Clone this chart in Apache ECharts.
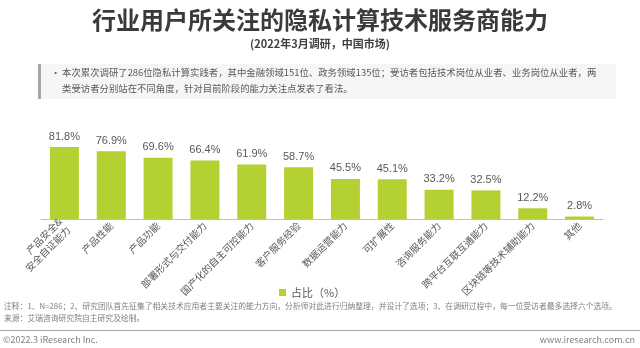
<!DOCTYPE html>
<html><head><meta charset="utf-8">
<script src="https://cdn.jsdelivr.net/npm/echarts@6/dist/echarts.min.js"></script>
<style>html,body{margin:0;padding:0;background:#fff}#c{width:640px;height:348px}</style>
</head><body><div id="c"></div>
<script>
const categories = ['产品安全&\n安全自证能力','产品性能','产品功能','部署形式与交付能力','国产化的自主可控能力','客户服务经验','数据运营能力','可扩展性','咨询服务能力','跨平台互联互通能力','区块链等技术辅助能力','其他'];
const values = [81.8,76.9,69.6,66.4,61.9,58.7,45.5,45.1,33.2,32.5,12.2,2.8];
const seriesName = '占比（%）';
const titleText = '行业用户所关注的隐私计算技术服务商能力';
const subtitleText = '(2022年3月调研，中国市场)';
const noteLines = ['本次累次调研了286位隐私计算实践者，其中金融领域151位、政务领域135位；受访者包括技术岗位从业者、业务岗位从业者，两','类受访者分别站在不同角度，针对目前阶段的能力关注点发表了看法。'];
const footLines = ['注释：1、N=286；2、研究团队首先征集了相关技术应用者主要关注的能力方向，分析师对此进行归纳整理，并设计了选项；3、在调研过程中，每一位受访者最多选择六个选项。','来源：艾瑞咨询研究院自主研究及绘制。'];
const copyright = '©2022.3 iResearch Inc.';
const website = 'www.iresearch.com.cn';

const font = '"Noto Sans CJK SC", "Noto Sans", sans-serif';
const chart = echarts.init(document.getElementById('c'));
chart.setOption({
  animation:false,
  textStyle:{fontFamily:font},
  grid:{left:41,right:37,top:131,bottom:129},
  legend:{data:[seriesName],left:274,top:282,itemWidth:7,itemHeight:7,itemGap:4,icon:'rect',
    textStyle:{fontSize:11,color:'#595959',fontFamily:font}},
  xAxis:{type:'category',data:categories,
    axisLine:{lineStyle:{color:'#bfbfbf',width:1}},axisTick:{show:false},
    axisLabel:{rotate:45,fontSize:9.8,color:'#595959',interval:0,margin:5,lineHeight:12,fontFamily:font}},
  yAxis:{type:'value',min:0,max:100,show:false,splitLine:{show:false}},
  series:[{name:seriesName,type:'bar',data:values,barWidth:29,
    itemStyle:{color:'#B3D232'},
    label:{show:true,position:'top',distance:5,formatter:p=>p.value.toFixed(1)+'%',fontSize:11,color:'#595959',fontFamily:'Arial, "Liberation Sans", sans-serif'}}],
  graphic:[
    {type:'text',left:'center',top:8,style:{text:titleText,font:'bold 24px '+font,fill:'#3a3a3a'}},
    {type:'text',left:'center',top:38,style:{text:subtitleText,font:'bold 11px '+font,fill:'#404040'}},
    {type:'rect',shape:{x:38,y:64,width:578,height:35},style:{fill:'#f6f6f6'}},
    {type:'rect',shape:{x:38,y:64,width:3,height:35},style:{fill:'#a6a6a6'}},
    {type:'text',x:51,y:68,style:{text:'•',font:'9.4px '+font,fill:'#595959'}},
    {type:'text',x:62,y:68,style:{text:noteLines[0],font:'9.4px '+font,fill:'#595959'}},
    {type:'text',x:62,y:84,style:{text:noteLines[1],font:'9.4px '+font,fill:'#595959'}},
    {type:'text',x:4,y:302,style:{text:footLines[0],font:'7.8px '+font,fill:'#7f7f7f'}},
    {type:'text',x:4,y:314,style:{text:footLines[1],font:'7.8px '+font,fill:'#7f7f7f'}},
    {type:'rect',shape:{x:0,y:330,width:640,height:1},style:{fill:'#a6a6a6'}},
    {type:'text',x:3,y:335,style:{text:copyright,font:'9px '+font,fill:'#7f7f7f'}},
    {type:'text',right:5,y:335,style:{text:website,font:'9px '+font,fill:'#7f7f7f'}}
  ]
});
</script></body></html>
